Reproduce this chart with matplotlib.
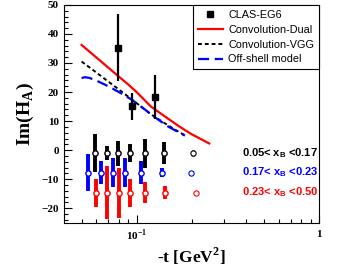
import numpy as np
import matplotlib
matplotlib.use("Agg")
import matplotlib.pyplot as plt
from matplotlib.ticker import MultipleLocator, FixedLocator, NullFormatter
import matplotlib.transforms as mtrans

plt.rcParams['mathtext.fontset'] = 'custom'
plt.rcParams['mathtext.rm'] = 'Liberation Serif:bold'
plt.rcParams['mathtext.bf'] = 'Liberation Serif:bold'
plt.rcParams['mathtext.sf'] = 'Liberation Sans:bold'

# CLAS-EG6 data
t_clas = [0.079, 0.094, 0.126]
im_clas = [35.2, 15.1, 18.2]
err_clas = [11.5, 4.6, 7.5]

# model curves
t_dual = [0.05, 0.06, 0.07, 0.08, 0.09, 0.10, 0.12, 0.14, 0.17, 0.20, 0.25]
im_dual = [36.2, 32.0, 28.4, 25.3, 22.6, 20.0, 15.0, 12.0, 8.3, 5.5, 2.3]
t_vgg = [0.05, 0.06, 0.07, 0.08, 0.09, 0.10, 0.12, 0.14, 0.16, 0.185]
im_vgg = [30.5, 26.8, 23.6, 20.9, 18.4, 16.2, 12.3, 9.6, 7.3, 5.0]
t_off = [0.05, 0.052, 0.055, 0.06, 0.07, 0.08, 0.094, 0.11, 0.126, 0.15, 0.184]
im_off = [24.8, 25.1, 24.9, 24.0, 22.0, 20.0, 17.4, 14.2, 11.3, 8.0, 5.0]

# projected points for three xB bins (offset rows)
t_bin1 = [0.0589, 0.0689, 0.079, 0.0925, 0.111, 0.1416]
y_bin1 = -1.0
e_bin1 = [6.5, 2.5, 4.3, 3.0, 5.0, 3.8]
t_bin2 = [0.0541, 0.0642, 0.0743, 0.0869, 0.1055, 0.137]
y_bin2 = -7.7
e_bin2 = [6.3, 4.0, 5.0, 5.0, 3.8, 1.6]
t_bin3 = [0.0597, 0.0692, 0.0798, 0.0925, 0.111, 0.143]
y_bin3 = -14.6
e_bin3 = [4.8, 9.0, 8.6, 4.8, 3.5, 2.2]

bin_labels = [r'0.05< $\mathsf{x_B}$ <0.17', r'0.17< $\mathsf{x_B}$ <0.23', r'0.23< $\mathsf{x_B}$ <0.50']
bin_colors = ['black', 'blue', 'red']
key_t = [0.203, 0.1986, 0.211]
key_err = [1.0, 0.0, 0.0]

fig = plt.figure(figsize=(3.55, 2.72), dpi=100)
ax = fig.add_axes([0.180, 0.181, 0.719, 0.801])

ax.errorbar(t_clas, im_clas, yerr=err_clas, fmt='none', ecolor='black',
            elinewidth=1.6, capsize=0, zorder=4)
h_clas, = ax.plot(t_clas, im_clas, 's', color='black', ms=5, ls='none', zorder=5)
h_dual, = ax.plot(t_dual, im_dual, color='red', lw=1.6)
h_vgg, = ax.plot(t_vgg, im_vgg, color='black', lw=1.4, ls=(0, (2, 1.5)))
h_off, = ax.plot(t_off, im_off, color='blue', lw=1.6, ls=(0, (5, 2.5)))

for tt, yy, ee, col in zip([t_bin1, t_bin2, t_bin3], [y_bin1, y_bin2, y_bin3],
                           [e_bin1, e_bin2, e_bin3], bin_colors):
    ax.errorbar(tt, [yy] * len(tt), yerr=ee, fmt='o', color=col, mfc='white',
                mec=col, ms=3.8, mew=1.0, elinewidth=2.8, capsize=0, zorder=3)

# key markers and labels
tr = mtrans.blended_transform_factory(ax.transAxes, ax.transData)
for kt, ke, yy, col, lab in zip(key_t, key_err, [y_bin1, y_bin2, y_bin3], bin_colors, bin_labels):
    ax.errorbar([kt], [yy], yerr=[ke] if ke > 0 else None, fmt='o', color=col, mfc='white',
                mec=col, ms=3.8, mew=0.8, elinewidth=2, capsize=0, zorder=3)
    ax.text(0.995, yy, lab, transform=tr, ha='right', va='center', color=col,
            fontsize=8, fontweight='bold', family='Liberation Sans')

ax.set_xscale('log')
ax.set_xlim(0.04, 1)
ax.set_ylim(-25, 50)

ax.xaxis.set_major_locator(FixedLocator([0.1, 1]))
ax.xaxis.set_minor_locator(FixedLocator([0.05, 0.06, 0.07, 0.08, 0.09, 0.2, 0.3, 0.4, 0.5, 0.6, 0.7, 0.8, 0.9]))
ax.xaxis.set_minor_formatter(NullFormatter())
ax.set_xticklabels([r'$10^{-1}$', r'$1$'])
ax.yaxis.set_major_locator(MultipleLocator(10))
ax.yaxis.set_minor_locator(MultipleLocator(2))

ax.tick_params(which='both', direction='in', top=False, right=False)
ax.tick_params(which='major', length=5.5, width=0.8, labelsize=8)
ax.tick_params(which='minor', length=3, width=0.8)
for lab in ax.get_yticklabels():
    lab.set_fontfamily('Liberation Serif')
    lab.set_fontweight('bold')
for sp in ax.spines.values():
    sp.set_linewidth(0.8)

ax.set_ylabel(r'Im(H$_\mathrm{A}$)', fontsize=14, fontweight='bold', family='Liberation Serif', labelpad=4)
ax.set_xlabel(r'-t [GeV$^\mathrm{2}$]', fontsize=12.5, fontweight='bold', family='Liberation Serif', labelpad=2)

leg = ax.legend([h_clas, h_dual, h_vgg, h_off],
                ['CLAS-EG6', 'Convolution-Dual', 'Convolution-VGG', 'Off-shell model'],
                loc='upper right', borderaxespad=0, frameon=True, fancybox=False,
                edgecolor='black', handlelength=2.3, handletextpad=0.5, labelspacing=0.45,
                borderpad=0.45, prop={'family': 'Liberation Sans', 'size': 7.8})
leg.get_frame().set_linewidth(0.8)
leg.get_frame().set_alpha(1)

fig.savefig('out.png', dpi=100)
